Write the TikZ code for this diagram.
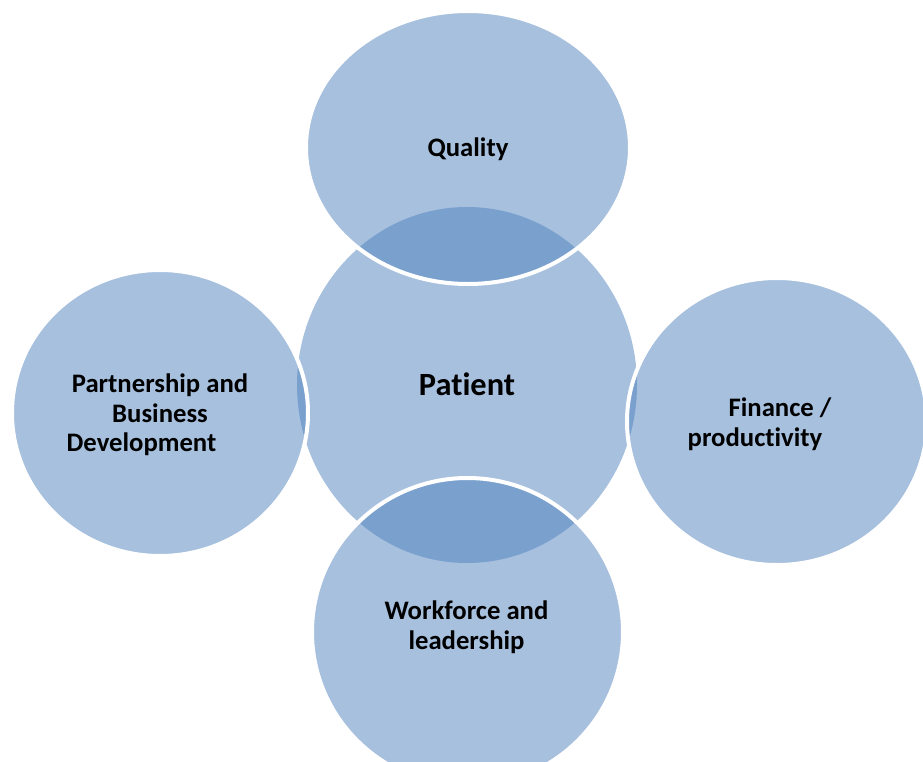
\documentclass[tikz,border=0pt]{standalone}
\usepackage{fontspec}
\setmainfont[Ligatures=NoCommon]{Carlito}
\usetikzlibrary{shapes.geometric}

\definecolor{accent}{HTML}{4F81BD}

\begin{document}
\begin{tikzpicture}[
    x=1bp, y=-1bp,
    bubble/.style={ellipse, draw=white, line width=4bp, fill=accent, fill opacity=0.5, draw opacity=1, inner sep=0pt},
    hub/.style={bubble, draw=none},
    caption/.style={font=\bfseries\fontsize{26.7bp}{29.5bp}\selectfont, align=center, anchor=base, inner sep=0pt}
]
    \clip (0,0) rectangle (923,762);

    \node[hub, minimum width=340bp, minimum height=356bp] (patient) at (467,385) {};
    \node[bubble, minimum width=324bp, minimum height=273bp] (quality) at (468,147.5) {};
    \node[bubble, minimum width=296bp, minimum height=286bp] (partner) at (160,413) {};
    \node[bubble, minimum width=300bp, minimum height=287bp] (finance) at (777,421.5) {};
    \node[bubble, minimum width=311bp, minimum height=308bp] (workforce) at (467.5,632) {};

    % multi-line captions sit on their last line
    \node[caption] (qualitytext) at (468,156) {Quality};
    \node[caption, font=\bfseries\fontsize{32.4bp}{36bp}\selectfont] (patienttext) at (467,395) {Patient};
    \node[caption] (partnertext) at (160,451.7) {Partnership and\\Business\\Development\hspace*{37bp}};
    \node[caption] (financetext) at (755,446) {\hspace*{50bp}Finance /\\productivity};
    \node[caption] (workforcetext) at (466.5,649) {Workforce and\\leadership};
\end{tikzpicture}
\end{document}
